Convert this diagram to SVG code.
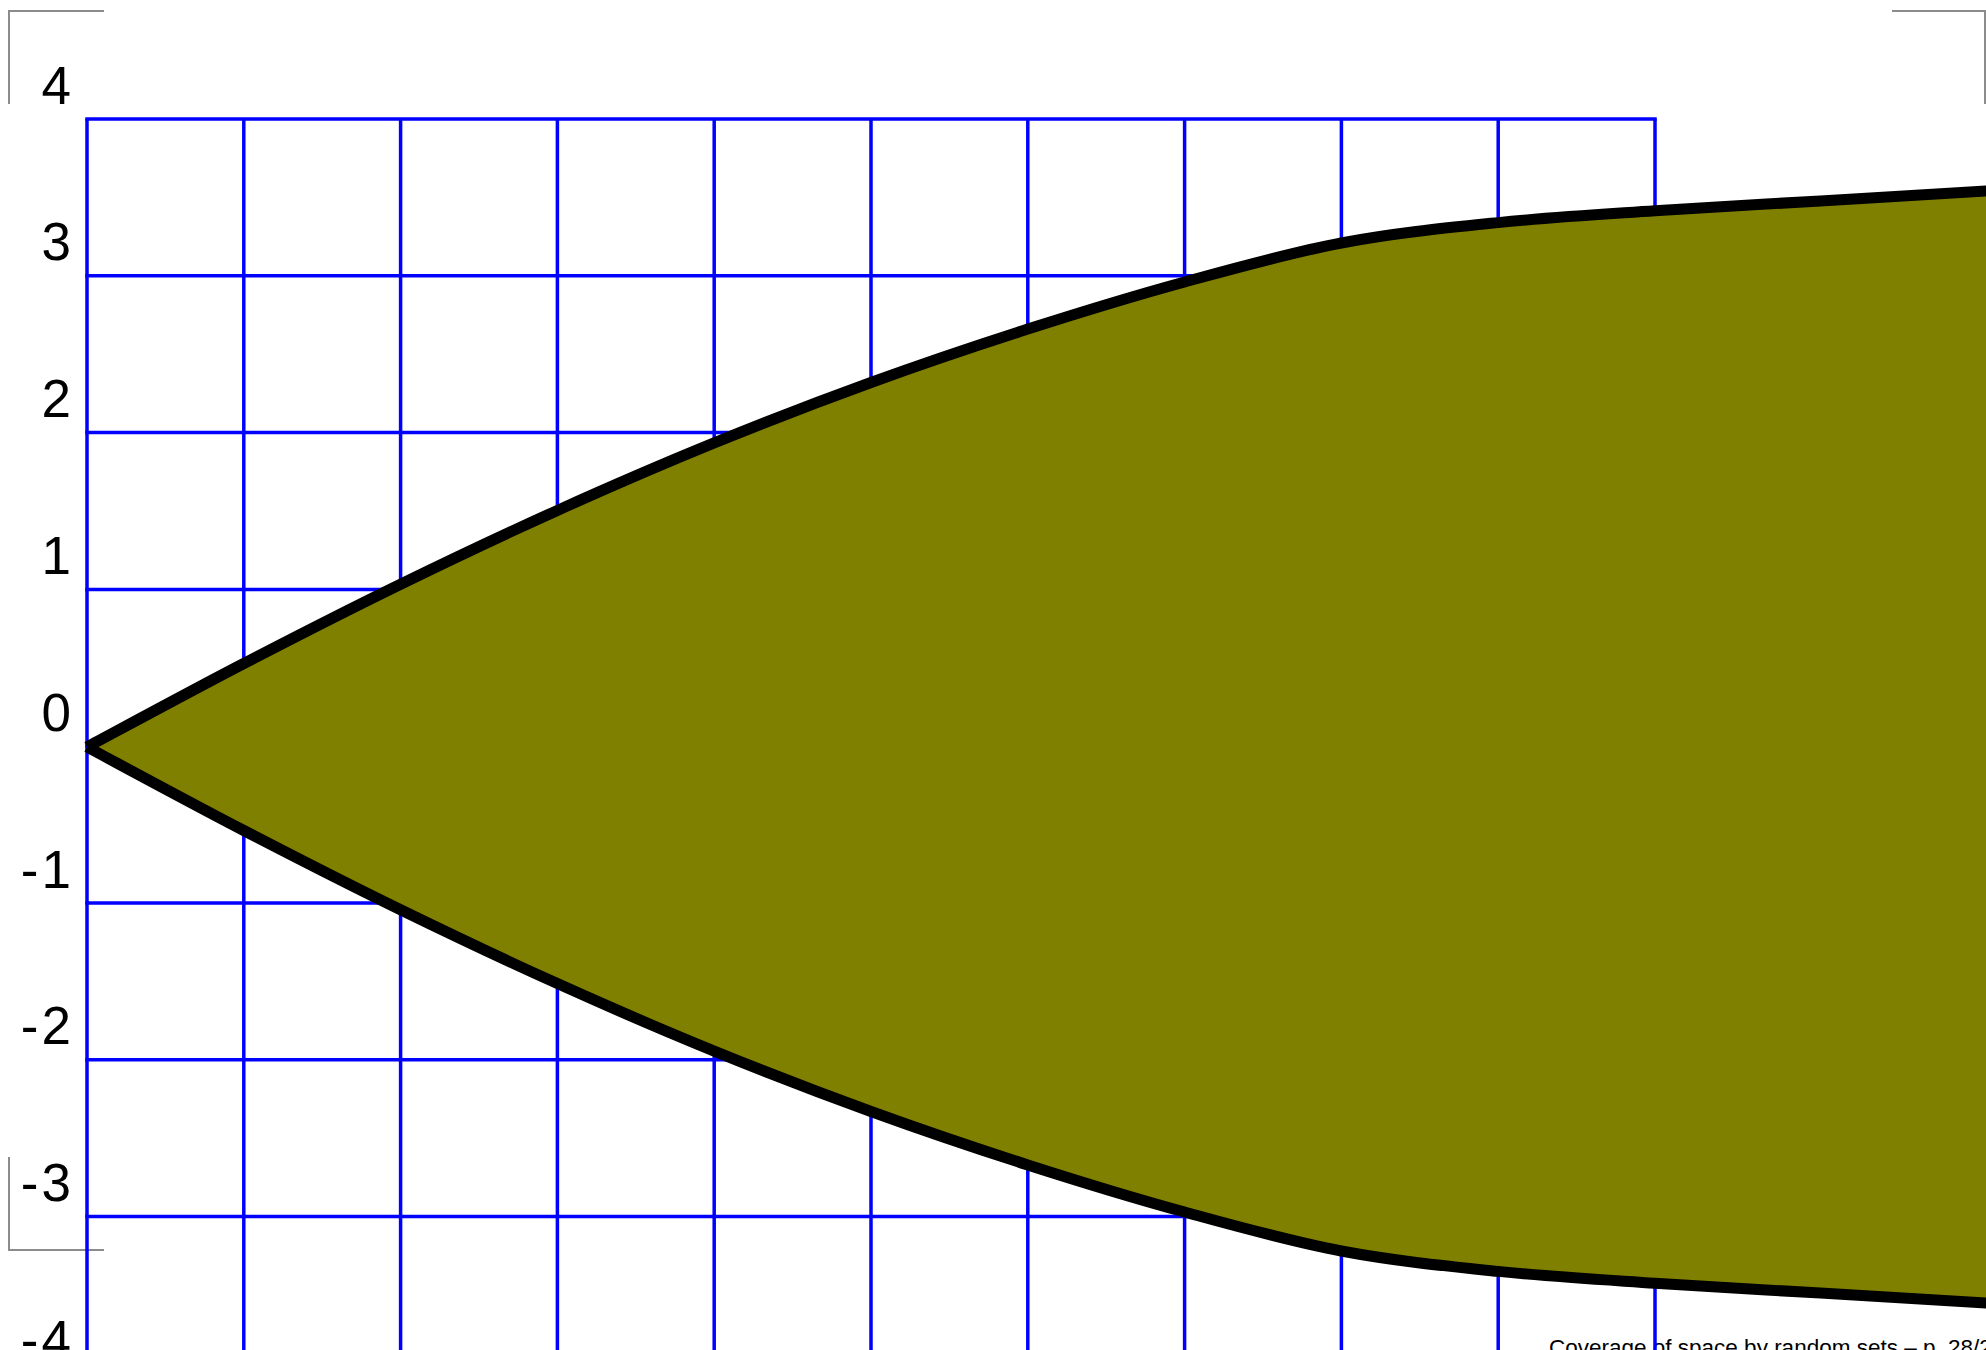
<svg xmlns="http://www.w3.org/2000/svg" width="1986" height="1350" viewBox="0 0 1986 1350">
<style>
.corner{fill:none;stroke:#8c8c8c;stroke-width:2}
.grid line{stroke:#0000ff;stroke-width:3.5}
.lbl{font-family:"Liberation Sans",Arial,sans-serif;font-size:53px;fill:#000;text-anchor:end}
.foot{font-family:"Liberation Sans",Arial,sans-serif;font-size:22.5px;fill:#000}
.shape{fill:#808000;stroke:#000;stroke-width:11;stroke-linejoin:round;stroke-linecap:butt}
</style>
<rect width="1986" height="1350" fill="#fff"/>
<g id="corners">
<path class="corner" d="M9,104 V11 H104"/>
<path class="corner" d="M1892,11 H1985 V104"/>
<path class="corner" d="M9,1157 V1250 H104"/>
</g>
<text id="footer" class="foot" x="1549" y="1355">Coverage of space by random sets – p. 28/2</text>
<g id="labels">
<text class="lbl" x="71" y="103.5">4</text>
<text class="lbl" x="71" y="260.3">3</text>
<text class="lbl" x="71" y="417.1">2</text>
<text class="lbl" x="71" y="573.9">1</text>
<text class="lbl" x="71" y="730.7">0</text>
<text class="lbl" x="71" y="887.5">-<tspan dx="3">1</tspan></text>
<text class="lbl" x="71" y="1044.3">-<tspan dx="3">2</tspan></text>
<text class="lbl" x="71" y="1201.1">-<tspan dx="3">3</tspan></text>
<text class="lbl" x="71" y="1357.9">-<tspan dx="3">4</tspan></text>
</g>
<g id="grid" class="grid">
<line x1="87" y1="119" x2="87" y2="1360"/>
<line x1="243.8" y1="119" x2="243.8" y2="1360"/>
<line x1="400.6" y1="119" x2="400.6" y2="1360"/>
<line x1="557.4" y1="119" x2="557.4" y2="1360"/>
<line x1="714.2" y1="119" x2="714.2" y2="1360"/>
<line x1="871" y1="119" x2="871" y2="1360"/>
<line x1="1027.8" y1="119" x2="1027.8" y2="1360"/>
<line x1="1184.6" y1="119" x2="1184.6" y2="1360"/>
<line x1="1341.4" y1="119" x2="1341.4" y2="1360"/>
<line x1="1498.2" y1="119" x2="1498.2" y2="1360"/>
<line x1="1655" y1="119" x2="1655" y2="1360"/>
<line x1="85.25" y1="119" x2="1656.75" y2="119"/>
<line x1="85.25" y1="275.8" x2="1656.75" y2="275.8"/>
<line x1="85.25" y1="432.6" x2="1656.75" y2="432.6"/>
<line x1="85.25" y1="589.4" x2="1656.75" y2="589.4"/>
<line x1="85.25" y1="746.2" x2="1656.75" y2="746.2"/>
<line x1="85.25" y1="903" x2="1656.75" y2="903"/>
<line x1="85.25" y1="1059.8" x2="1656.75" y2="1059.8"/>
<line x1="85.25" y1="1216.6" x2="1656.75" y2="1216.6"/>
</g>
<g id="region">
<path class="shape" d="M87,747 C113.1,733.1 191.5,690.6 243.8,663.5 C296.1,636.4 348.3,609.7 400.6,584.2 C452.9,558.7 505.1,533.95 557.4,510.4 C609.7,486.85 661.9,464.2 714.2,442.9 C766.5,421.6 818.7,401.5 871,382.5 C923.3,363.5 975.5,345.85 1027.8,329.1 C1080.1,312.35 1132.3,296.35 1184.6,282 C1236.9,267.65 1289.1,252.9 1341.4,243 C1393.7,233.1 1445.9,227.97 1498.2,222.6 C1550.5,217.23 1601.3,214.4 1655,210.8 C1708.7,207.2 1765.3,204.2 1820.5,200.9 L1986,191 L2100,184 L2100,1310 L1986,1303 L1820.5,1293.1 C1765.3,1289.8 1708.7,1286.8 1655,1283.2 C1601.3,1279.6 1550.5,1276.77 1498.2,1271.4 C1445.9,1266.03 1393.7,1260.9 1341.4,1251 C1289.1,1241.1 1236.9,1226.35 1184.6,1212 C1132.3,1197.65 1080.1,1181.65 1027.8,1164.9 C975.5,1148.15 923.3,1130.5 871,1111.5 C818.7,1092.5 766.5,1072.4 714.2,1051.1 C661.9,1029.8 609.7,1007.15 557.4,983.6 C505.1,960.05 452.9,935.3 400.6,909.8 C348.3,884.3 296.1,857.6 243.8,830.5 C191.5,803.4 113.1,760.9 87,747"/>
</g>
</svg>
